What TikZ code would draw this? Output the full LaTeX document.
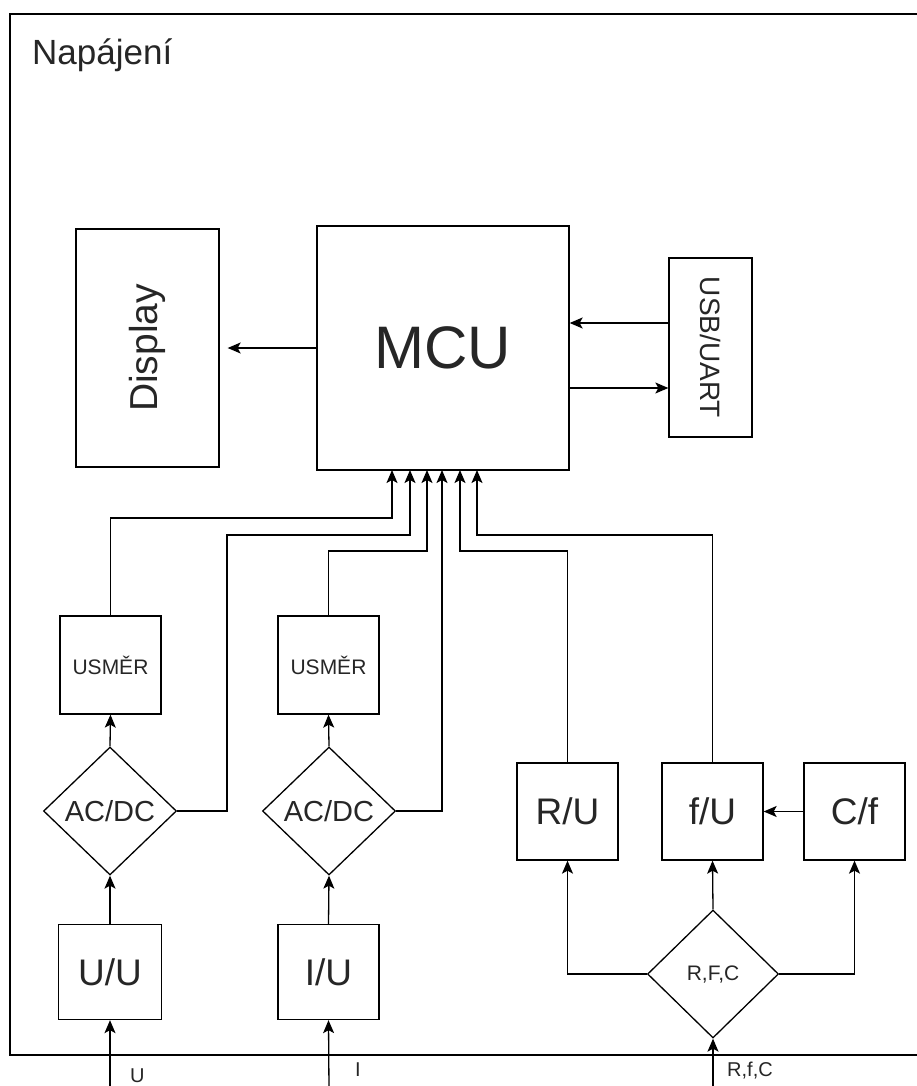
\documentclass[tikz,border=0pt]{standalone}
\usepackage{fontspec}
\setmainfont{Liberation Sans}
\usepackage{graphicx}
\usetikzlibrary{shapes.geometric,arrows.meta}
\tikzset{
  box/.style={draw, line width=1.3pt, inner sep=0pt, text=black!85},
  dia/.style={draw, diamond, line width=1.3pt, inner sep=0pt, minimum width=133pt, minimum height=128pt, text=black!85},
  arr/.style={line width=1.3pt, -{Stealth[length=13pt,width=11pt,inset=3pt]}},
  ln/.style={line width=1.3pt},
  big/.style={font=\fontsize{37}{40}\selectfont},
  mid/.style={font=\fontsize{29}{32}\selectfont},
  small/.style={font=\fontsize{21}{24}\selectfont},
  lbl/.style={font=\fontsize{20}{24}\selectfont, text=black!85, inner sep=0pt, anchor=west}
}
\begin{document}
\begin{tikzpicture}[x=1pt,y=-1pt]
\useasboundingbox (0,0) rectangle (917,1086);
\clip (0,0) rectangle (917,1086);
% frame
\draw[ln] (930,14) -- (10,14) -- (10,1055) -- (930,1055);
\node[anchor=west, inner sep=0pt, text=black!85, font=\fontsize{35}{38}\selectfont] (title) at (32,55) {Napájení};
% top row
\node[box, minimum width=143pt, minimum height=238pt] (disp) at (147.5,348) {\fontsize{39}{42}\selectfont\rotatebox{90}{Display}};
\node[box, minimum width=252pt, minimum height=244pt, font=\fontsize{60}{64}\selectfont] (mcu) at (443,348) {MCU};
\node[box, minimum width=83pt, minimum height=179pt] (usb) at (710.5,347.5) {\fontsize{28}{32}\selectfont\rotatebox{-90}{USB/UART}};
% left chains
\node[box, small, minimum width=101pt, minimum height=98pt] (us1) at (110.5,665) {USMĚR};
\node[box, small, minimum width=101pt, minimum height=98pt] (us2) at (328.5,665) {USMĚR};
\node[dia, mid] (ad1) at (110,811) {AC/DC};
\node[dia, mid] (ad2) at (329,811) {AC/DC};
\node[box, big, minimum width=103pt, minimum height=95pt] (uu) at (110,972) {U/U};
\node[box, big, minimum width=101pt, minimum height=95pt] (iu) at (328.5,972) {I/U};
% right chains
\node[box, big, minimum width=101pt, minimum height=97pt] (ru) at (567.5,811.5) {R/U};
\node[box, big, minimum width=101pt, minimum height=97pt] (fu) at (712.5,811.5) {f/U};
\node[box, big, minimum width=101pt, minimum height=97pt] (cf) at (854.5,811.5) {C/f};
\node[dia, small, minimum width=131pt] (rfc) at (713,974) {R,F,C};
% MCU input points
\coordinate (m1) at (392,470);
\coordinate (m2) at (410,470);
\coordinate (m3) at (427,470);
\coordinate (m4) at (442,470);
\coordinate (m5) at (460,470);
\coordinate (m6) at (477,470);
% external inputs
\coordinate (inU) at (110,1090);
\coordinate (inI) at (329,1090);
\coordinate (inR) at (713,1090);
\node[lbl] (lU) at (130,1076) {U};
\node[lbl] (lI) at (355,1070) {I};
\node[lbl] (lR) at (727,1071) {R,f,C};
% connectors
\draw[arr] (mcu.west) -- ([xshift=8pt]disp.east);
\draw[arr] (usb.west |- 0,323) -- (mcu.east |- 0,323);
\draw[arr] (mcu.east |- 0,388) -- (usb.west |- 0,388);
\draw[arr] (inU) -- (uu.south);
\draw[arr] (inI) -- (iu.south);
\draw[arr] (inR) -- (rfc.south);
\draw[arr] (uu.north) -- (ad1.south);
\draw[arr] (iu.north) -- (ad2.south);
\draw[arr] (ad1.north) -- (us1.north |- us1.south);
\draw[arr] (ad2.north) -- (us2.south);
\draw[arr] (us1.north) |- (392,518) -- (m1);
\draw[arr] (ad1.east) -| (227,535) -| (m2);
\draw[arr] (us2.north) |- (427,551) -- (m3);
\draw[arr] (ad2.east) -| (m4);
\draw[arr] (ru.north) |- (460,551) -- (m5);
\draw[arr] (fu.north) |- (477,535) -- (m6);
\draw[arr] (cf.west) -- (fu.east);
\draw[arr] (rfc.west) -| (ru.south);
\draw[arr] (rfc.east) -| (cf.south);
\draw[arr] (rfc.north) -- (fu.south);
\end{tikzpicture}
\end{document}
